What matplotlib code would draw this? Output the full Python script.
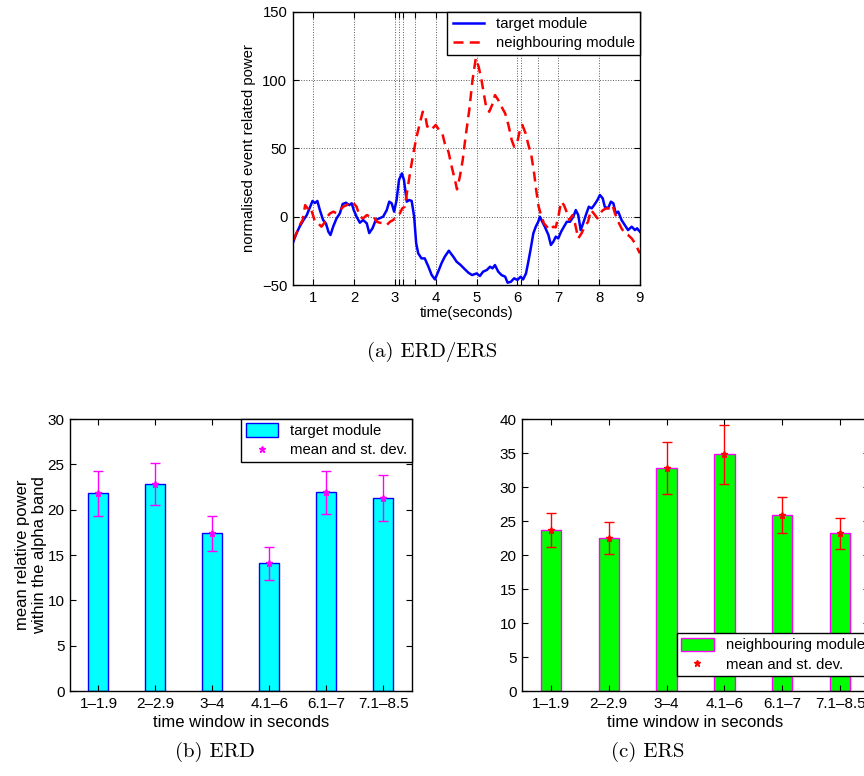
import numpy as np
import matplotlib
matplotlib.use("Agg")
import matplotlib.pyplot as plt

plt.rcParams['font.family'] = ['Liberation Sans', 'DejaVu Sans']

# (a) ERD/ERS time courses
t_target = [0.51, 0.59, 0.67, 0.76, 0.84, 0.92, 0.98, 1.04, 1.10, 1.16, 1.24, 1.31, 1.37, 1.42,
            1.49, 1.57, 1.65, 1.72, 1.80, 1.88, 1.94, 1.99, 2.06, 2.14, 2.22, 2.31, 2.37, 2.45,
            2.53, 2.62, 2.71, 2.80, 2.86, 2.92, 2.98, 3.04, 3.10, 3.17, 3.22, 3.29, 3.35, 3.41,
            3.47, 3.52, 3.57, 3.65, 3.73, 3.82, 3.90, 3.98, 4.06, 4.14, 4.22, 4.32, 4.43, 4.51,
            4.61, 4.69, 4.80, 4.89, 5.00, 5.08, 5.16, 5.25, 5.33, 5.39, 5.45, 5.53, 5.61, 5.70,
            5.76, 5.84, 5.92, 6.00, 6.08, 6.14, 6.21, 6.26, 6.32, 6.39, 6.45, 6.51, 6.55, 6.61,
            6.67, 6.76, 6.82, 6.88, 6.94, 7.00, 7.07, 7.14, 7.21, 7.29, 7.37, 7.43, 7.49, 7.55,
            7.61, 7.69, 7.75, 7.82, 7.88, 7.96, 8.02, 8.09, 8.14, 8.22, 8.29, 8.35, 8.41, 8.47,
            8.55, 8.63, 8.71, 8.80, 8.88, 8.93, 9.00]
v_target = [-18.3, -12, -7, -2.4, 1.2, 7, 11.5, 10, 11.5, 4.9, -2.4, -5, -11, -13.4,
            -7, -1.2, 2.4, 9.3, 10.2, 8.5, 9.8, 4.9, 0, -4.4, -2.4, -4.9, -12, -8.5,
            -2.4, -1.2, 0, 4.9, 11, 9.8, 3.7, 12.2, 27, 31.7, 27, 11, 12.2, 11.5,
            0, -19.5, -26.8, -30.5, -30.5, -36.6, -42.7, -45.9, -40.2, -34.1, -29.3, -24.9, -29.3, -32.9,
            -35.4, -37.8, -41, -42.7, -41.5, -43.4, -40.2, -39, -36.6, -37.8, -35.4, -40.2, -42.7, -43.9,
            -48.3, -47.6, -45.1, -46.3, -43.9, -45.9, -41.5, -34.1, -24.4, -12.2, -7.3, -3.7, 0, -3.7,
            -7.3, -13.4, -20.7, -18.3, -14.6, -15.9, -11, -7.3, -3.7, -3.7, 0, 4.9, 1.2, -9.8,
            -4.9, 2.4, 7.3, 6.1, 8.5, 12.2, 15.9, 13.4, 7.3, 6.1, 11, 9.8, 2.4, 3.7,
            -2.4, -6.1, -9.8, -7.3, -9.8, -8.5, -11]

t_neigh = [0.51, 0.59, 0.67, 0.74, 0.80, 0.86, 0.92, 0.98, 1.04, 1.12, 1.20, 1.29, 1.34, 1.41,
           1.49, 1.57, 1.65, 1.73, 1.82, 1.90, 1.98, 2.06, 2.14, 2.22, 2.31, 2.39, 2.47, 2.55,
           2.63, 2.71, 2.80, 2.88, 2.96, 3.04, 3.12, 3.18, 3.24, 3.31, 3.38, 3.45, 3.53, 3.61,
           3.68, 3.74, 3.79, 3.86, 3.92, 4.00, 4.08, 4.16, 4.22, 4.31, 4.39, 4.47, 4.52, 4.59,
           4.66, 4.73, 4.82, 4.90, 4.98, 5.05, 5.12, 5.19, 5.24, 5.31, 5.38, 5.45, 5.53, 5.61,
           5.70, 5.78, 5.86, 5.92, 6.00, 6.06, 6.12, 6.20, 6.27, 6.34, 6.41, 6.46, 6.52, 6.58,
           6.65, 6.72, 6.80, 6.88, 6.94, 7.01, 7.07, 7.14, 7.22, 7.27, 7.35, 7.41, 7.49, 7.57,
           7.65, 7.73, 7.80, 7.87, 7.96, 8.02, 8.10, 8.18, 8.27, 8.33, 8.39, 8.47, 8.55, 8.63,
           8.71, 8.80, 8.88, 8.94, 9.00]
v_neigh = [-17, -12, -6, -2.4, 8.5, 6, 7.3, 2.4, -3.7, -4.9, -7.3, -3.7, 0, 2.4,
           3.7, 2.4, 4.3, 7.3, 8.5, 11, 10, 7.3, 0, -1.2, 1.2, 0, 0.5, -3.7,
           -4.4, -4.9, -6.1, -3.7, -2.4, 1.2, 2.4, 6.1, 7.3, 20.7, 34, 46.3, 58.5, 68.3,
           76.8, 74.4, 65.9, 67.1, 64.6, 67.1, 63.4, 61, 53.7, 47.6, 36.6, 26.8, 20, 29.3,
           41.5, 58.5, 78, 100, 115.9, 109.8, 100, 87.8, 79.3, 76.8, 81.7, 89, 85.4, 80.5,
           75.6, 67.1, 56.1, 51.2, 54.9, 63.4, 67.1, 61, 52.4, 45.1, 31.7, 19.5, 7.3, 1.2,
           -4.9, -7.3, -9.8, -7.3, -7.8, 1.2, 11, 8.5, 2.4, -2.4, 1.2, -4.9, -15.9, -12.2,
           -7.3, -3.7, 4.9, 2.4, -1.2, 2.4, 4.9, 6.1, 6.1, 8.5, 2.4, -3.7, -8.5, -12.2,
           -13.4, -15.9, -19.5, -23.2, -26.8]

major_x = [1, 2, 3, 4, 5, 6, 7, 8, 9]
extra_x = [3.1, 3.2, 3.5, 6.1, 6.5]

# (b) and (c) bar data
windows = ['1–1.9', '2–2.9', '3–4', '4.1–6', '6.1–7', '7.1–8.5']
erd_mean = [21.8, 22.8, 17.4, 14.1, 21.9, 21.3]
erd_std = [2.5, 2.3, 1.9, 1.8, 2.4, 2.5]
ers_mean = [23.7, 22.5, 32.8, 34.8, 25.9, 23.2]
ers_std = [2.5, 2.3, 3.8, 4.3, 2.6, 2.3]

fs = 10.7
fig = plt.figure(figsize=(8.64, 7.76), dpi=100)

def matlab_axes(ax, size):
    ax.tick_params(direction='in', top=True, right=True, labelsize=size, length=4, width=0.8, pad=4)
    ax.tick_params(which='minor', direction='in', top=True, right=True, length=4, width=0.8)
    for s in ax.spines.values():
        s.set_linewidth(1.0)

# (a)
ax1 = fig.add_axes([0.339, 0.6327, 0.4016, 0.3522])
ax1.plot(t_target, v_target, color='b', lw=1.8, label='target module')
ax1.plot(t_neigh, v_neigh, color='r', lw=1.8, ls=(0, (4, 2.5)), label='neighbouring module')
ax1.set_xlim(0.5, 9)
ax1.set_ylim(-50, 150)
ax1.set_xticks(major_x)
ax1.set_xticks(extra_x, minor=True)
ax1.set_yticks([-50, 0, 50, 100, 150])
ax1.set_yticklabels(['−50', '0', '50', '100', '150'])
ax1.grid(True, which='both', ls=':', color='0.35', lw=0.7)
matlab_axes(ax1, fs)
ax1.set_xlabel('time(seconds)', fontsize=fs, labelpad=1)
ax1.set_ylabel('normalised event related power', fontsize=fs, labelpad=4)
leg = ax1.legend(loc='upper right', borderaxespad=0, fontsize=fs, fancybox=False,
                 edgecolor='k', framealpha=1, handlelength=2.1, labelspacing=0.35,
                 borderpad=0.35)
leg.get_frame().set_linewidth(1.0)

x = np.arange(1, len(windows) + 1)

def bar_panel(rect, means, stds, face, edge, ecol, label, ymax, loc, anchor):
    ax = fig.add_axes(rect)
    bars = ax.bar(x, means, width=0.35, color=face, edgecolor=edge, lw=1.0)
    ax.errorbar(x, means, yerr=stds, fmt='none', ecolor=ecol, elinewidth=1.0, capsize=3.5)
    pts, = ax.plot(x, means, '*', color=ecol, ms=5)
    ax.set_xlim(0.5, 6.5)
    ax.set_ylim(0, ymax)
    ax.set_yticks(np.arange(0, ymax + 1, 5))
    ax.set_xticks(x)
    ax.set_xticklabels(windows)
    matlab_axes(ax, 11)
    ax.set_xlabel('time window in seconds', fontsize=12, labelpad=3)
    lg = ax.legend([bars, pts], [label, 'mean and st. dev.'], loc=loc, bbox_to_anchor=anchor,
                   borderaxespad=0, fontsize=fs, fancybox=False, edgecolor='k', framealpha=1,
                   handlelength=2.2, handleheight=1.0, labelspacing=0.3, borderpad=0.3)
    lg.get_frame().set_linewidth(1.0)
    return ax

ax2 = bar_panel([0.081, 0.1095, 0.3955, 0.3505], erd_mean, erd_std, 'cyan', 'b', 'magenta',
                'target module', 30, 'upper right', (1, 1))
ax2.set_ylabel('mean relative power\nwithin the alpha band', fontsize=12, labelpad=0)
ax3 = bar_panel([0.6042, 0.1095, 0.4016, 0.3505], ers_mean, ers_std, '#00ff00', 'magenta', 'r',
                'neighbouring module', 40, 'lower right', (1, 0.055))

cap = dict(family='cmr10', fontsize=15, ha='center', va='center')
fig.text(0.5, 1 - 352 / 776, '(a) ERD/ERS', **cap)
fig.text(215 / 864, 1 - 752 / 776, '(b) ERD', **cap)
fig.text(648 / 864, 1 - 752 / 776, '(c) ERS', **cap)

fig.savefig('out.png', dpi=100)
